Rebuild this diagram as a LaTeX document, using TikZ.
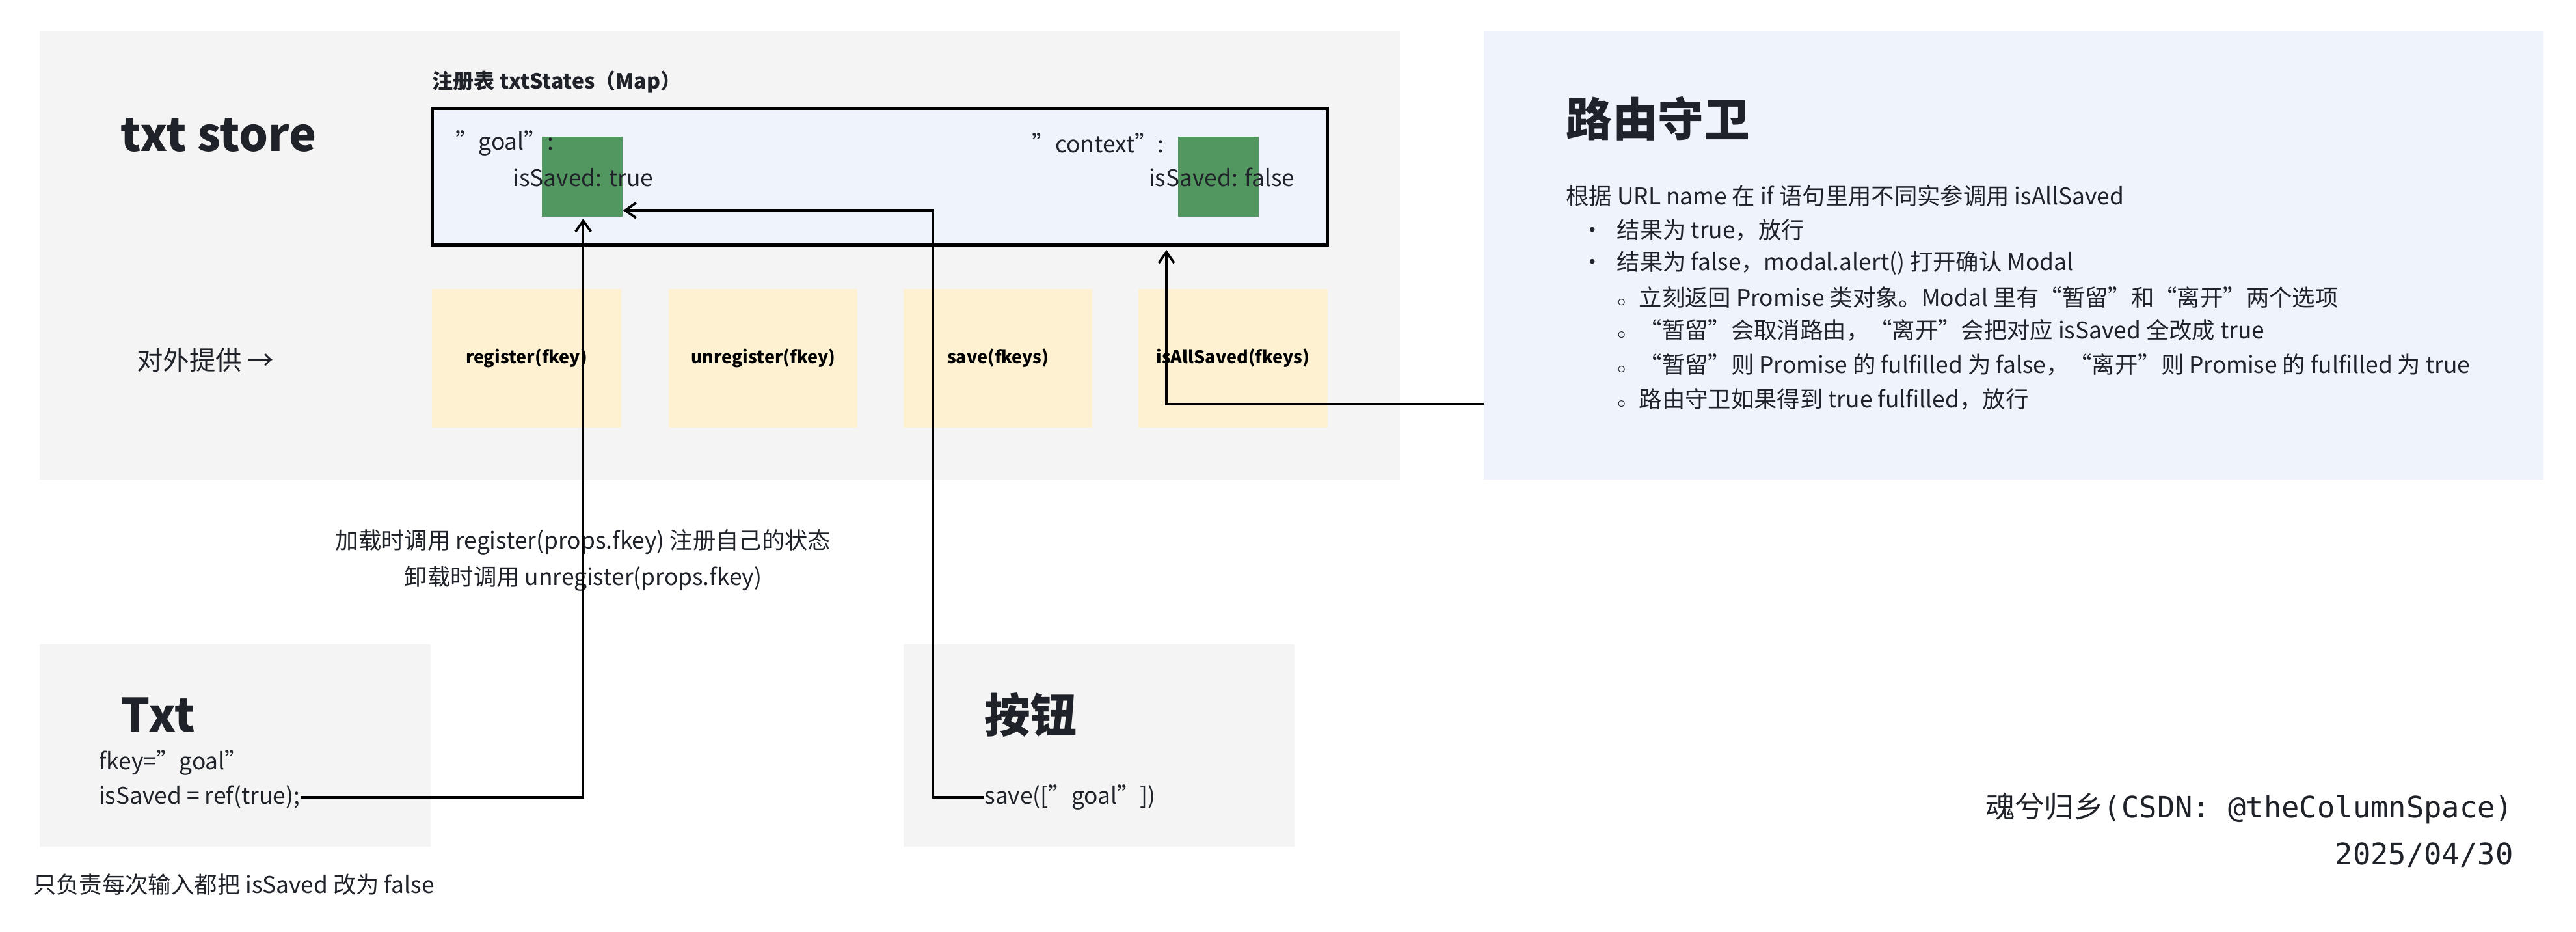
\documentclass[tikz,border=0pt]{standalone}
\usepackage{fontspec}
\setmainfont{Noto Sans CJK SC}
\newfontfamily\cjk{Noto Sans CJK SC}
\newfontfamily\mono{DejaVu Sans Mono}
\usetikzlibrary{arrows.meta}
\definecolor{panelgray}{HTML}{F4F4F4}
\definecolor{panelblue}{HTML}{EEF3FC}
\definecolor{fngreen}{HTML}{52975F}
\definecolor{fnyellow}{HTML}{FDF1D1}
\definecolor{txtc}{HTML}{1F2329}
\tikzset{
 panel/.style={draw=none,fill=panelgray},
 fn/.style={fill=fnyellow,draw=none,minimum width=86.25pt,minimum height=63pt,inner sep=0,font=\fontsize{8}{10}\selectfont\bfseries},
 cell/.style={fill=fngreen,draw=none},
 lbl/.style={anchor=west,inner sep=0,text=txtc,font=\fontsize{10.5}{12}\selectfont},
 big/.style={anchor=west,inner sep=0,text=txtc,font=\fontsize{21}{24}\selectfont\bfseries},
 conn/.style={draw=black,line width=1.1pt,-{Straight Barb[length=5pt,width=7pt]}},
}
\begin{document}
\begin{tikzpicture}[x=0.75pt,y=-0.75pt]
\useasboundingbox (0,0) rectangle (1568,567);
% panels
\fill[panelgray] (24,19) rectangle (852,292);
\fill[panelblue] (903,19) rectangle (1548,292);
\fill[panelgray] (24,392) rectangle (262,515);
\fill[panelgray] (550,392) rectangle (788,515);
% store
\node[big] (store) at (73,82) {txt store};
\node[lbl,font=\fontsize{9.5}{11}\selectfont\bfseries] (maptitle) at (263,50) {注册表 txtStates（Map）};
\draw[fill=panelblue,line width=1.5pt] (263,66) rectangle (808,149);
\node[cell,minimum width=36.75pt,minimum height=36.75pt] (g) at (354.5,107.5) {};
\node[cell,minimum width=36.75pt,minimum height=36.75pt] (c) at (741.5,107.5) {};
\node[lbl] (goal) at (277,87) {"goal":};
\node[lbl] (gs) at (312,108) {isSaved: true};
\node[lbl] (ctx) at (628,87) {"context":};
\node[lbl] (cs) at (699,108) {isSaved: false};
\node[lbl,font=\fontsize{12}{14}\selectfont] (provide) at (83,219) {对外提供 →};
\node[fn] (f1) at (320.5,218) {register(fkey)};
\node[fn] (f2) at (464.5,218) {unregister(fkey)};
\node[fn] (f3) at (607.5,218) {save(fkeys)};
\node[fn] (f4) at (750.5,218) {isAllSaved(fkeys)};
% Txt
\node[big] (txt) at (73,435) {Txt};
\node[lbl] (fkey) at (60,464) {fkey="goal"};
\node[lbl] (ref) at (60,485) {isSaved = ref(true);};
\node[big] (btn) at (599,435) {按钮};
\node[lbl] (save) at (599,485) {save(["goal"])};
\node[lbl] (note) at (20,538) {只负责每次输入都把 isSaved 改为 false};
\node[text=txtc,align=center,font=\fontsize{10.5}{16.5}\selectfont,inner sep=0] (reg) at (355,341) {加载时调用 register(props.fkey) 注册自己的状态\\卸载时调用 unregister(props.fkey)};
% right panel
\node[big] (guard) at (953,72) {路由守卫};
\node[lbl] (r0) at (953,119) {根据 URL name 在 if 语句里用不同实参调用 isAllSaved};
\node[lbl] (r1) at (962,140) {•\hspace{6pt}结果为 true，放行};
\node[lbl] (r2) at (962,160) {•\hspace{6pt}结果为 false，modal.alert() 打开确认 Modal};
\node[lbl] (r3) at (984,181) {\fontsize{7}{8}\selectfont$\circ$\hspace{6pt}\fontsize{10.5}{12}\selectfont 立刻返回 Promise 类对象。Modal 里有“暂留”和“离开”两个选项};
\node[lbl] (r4) at (984,201) {\fontsize{7}{8}\selectfont$\circ$\hspace{6pt}\fontsize{10.5}{12}\selectfont “暂留”会取消路由，“离开”会把对应 isSaved 全改成 true};
\node[lbl] (r5) at (984,222) {\fontsize{7}{8}\selectfont$\circ$\hspace{6pt}\fontsize{10.5}{12}\selectfont “暂留”则 Promise 的 fulfilled 为 false，“离开”则 Promise 的 fulfilled 为 true};
\node[lbl] (r6) at (984,243) {\fontsize{7}{8}\selectfont$\circ$\hspace{6pt}\fontsize{10.5}{12}\selectfont 路由守卫如果得到 true fulfilled，放行};
% signature
\node[anchor=east,inner sep=0,text=txtc,font=\fontsize{13.5}{16}\selectfont\mono] (sig) at (1530,492) {{\cjk 魂兮归乡}(CSDN: @theColumnSpace)};
\node[anchor=east,inner sep=0,text=txtc,font=\fontsize{13.5}{16}\selectfont\mono] (date) at (1530,520) {2025/04/30};
% connectors
\coordinate (gb) at (355,133);
\coordinate (ctb) at (710,152);
\draw[conn] (ref.east) -- (355,485) -- (gb);
\draw[conn] (save.west) -- (568,485) -- (568,128) -- (g.east |- 0,128);
\draw[conn] (903,246) -- (710,246) -- (ctb);
\end{tikzpicture}
\end{document}
